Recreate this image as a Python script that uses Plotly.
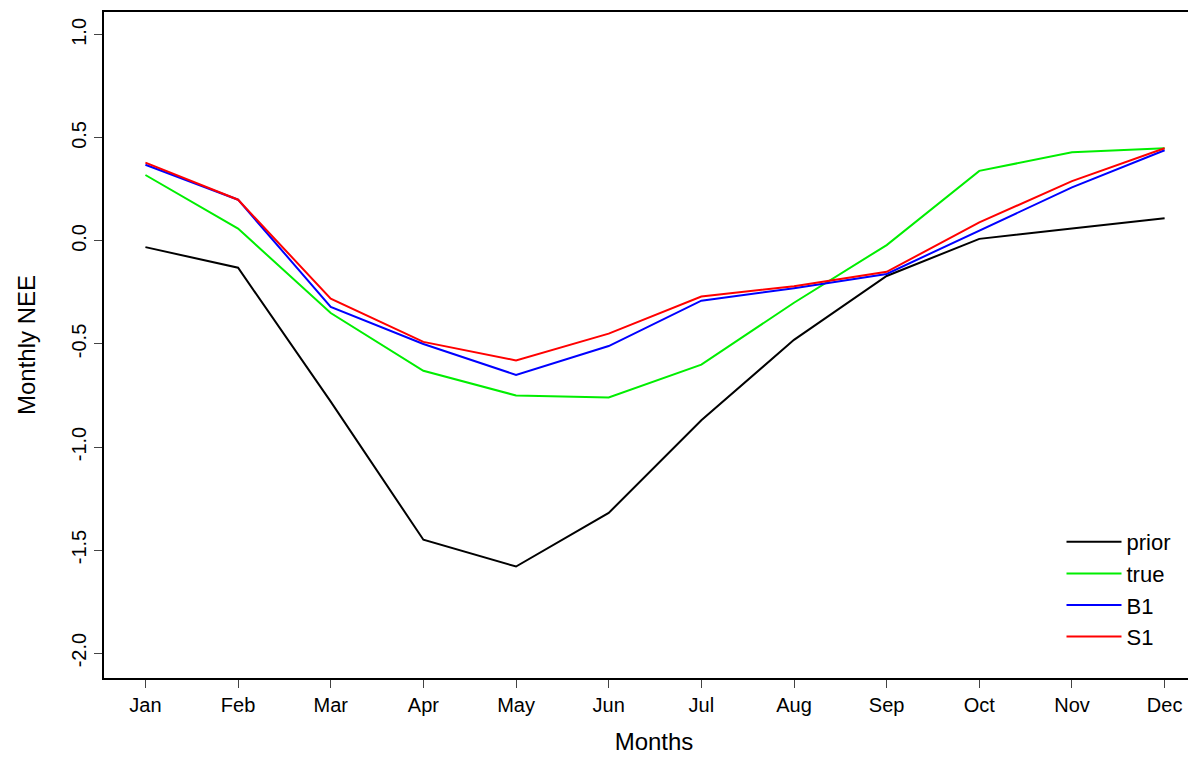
import plotly.graph_objects as go

months = ["Jan", "Feb", "Mar", "Apr", "May", "Jun", "Jul", "Aug", "Sep", "Oct", "Nov", "Dec"]
prior = [-0.03, -0.13, -0.78, -1.45, -1.58, -1.32, -0.87, -0.48, -0.17, 0.01, 0.06, 0.11]
true_nee = [0.32, 0.06, -0.35, -0.63, -0.75, -0.76, -0.60, -0.30, -0.02, 0.34, 0.43, 0.45]
b1 = [0.37, 0.20, -0.32, -0.50, -0.65, -0.51, -0.29, -0.23, -0.16, 0.05, 0.26, 0.44]
s1 = [0.38, 0.20, -0.28, -0.49, -0.58, -0.45, -0.27, -0.22, -0.15, 0.09, 0.29, 0.45]

series = [("prior", prior, "black"), ("true", true_nee, "#00ee00"),
          ("B1", b1, "blue"), ("S1", s1, "red")]

x = list(range(len(months)))
fig = go.Figure()
for name, vals, col in series:
    fig.add_trace(go.Scatter(x=x, y=vals, mode="lines", name=name,
                             line=dict(color=col, width=2)))

fig.update_layout(
    width=1196, height=767,
    plot_bgcolor="white", paper_bgcolor="white",
    margin=dict(l=96, r=0, t=4, b=97),
    font=dict(family="Liberation Sans, Arial", size=20, color="black"),
    legend=dict(x=0.975, y=0.03, xanchor="right", yanchor="bottom", itemwidth=55,
                bgcolor="rgba(0,0,0,0)", font=dict(size=22)),
)
fig.update_xaxes(range=[-0.447, 11.425], tickvals=x, ticktext=months, automargin=False,
                 showgrid=False, zeroline=False, showline=True, mirror=True,
                 linecolor="black", linewidth=1.5, ticks="outside", ticklen=8,
                 tickfont=dict(size=20), title=dict(text="Months", font=dict(size=24), standoff=18))
fig.update_yaxes(range=[-2.121, 1.111], tickvals=[-2, -1.5, -1, -0.5, 0, 0.5, 1],
                 ticktext=["-2.0", "-1.5", "-1.0", "-0.5", "0.0", "0.5", "1.0"], automargin=False,
                 tickangle=-90, showgrid=False, zeroline=False, showline=True, mirror=True,
                 linecolor="black", linewidth=1.5, ticks="outside", ticklen=8,
                 tickfont=dict(size=20), title=dict(text="Monthly NEE", font=dict(size=24), standoff=26))

fig.write_html("out.html")
